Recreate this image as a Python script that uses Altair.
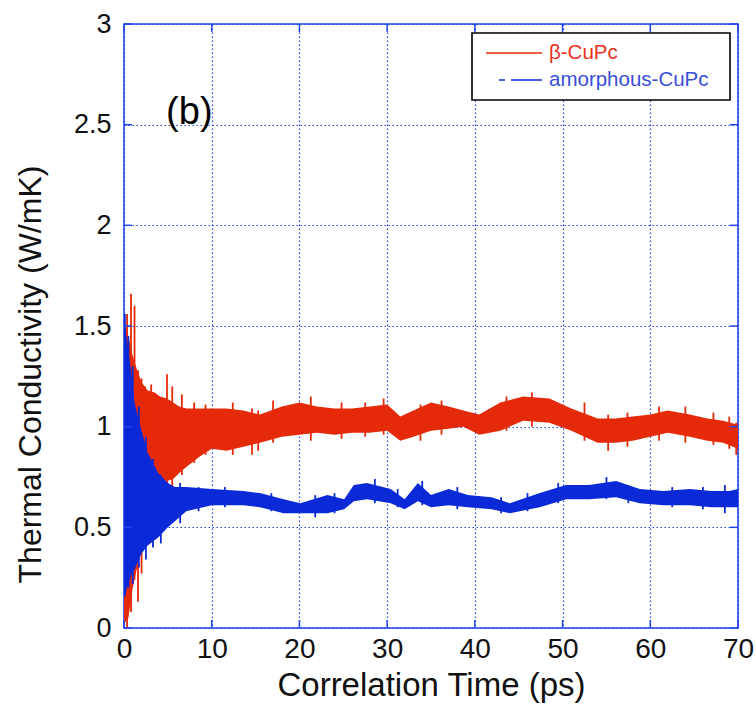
import altair as alt
import pandas as pd

# ---- data ----
red_t  = [0, 0.5, 1.0, 1.5, 2.0, 2.7, 3.5, 4.1, 4.9, 5.6, 6.3, 7.1, 8.6, 10, 11.7, 13.6, 15.5, 18, 20, 22, 24, 26, 28, 30, 31.5, 33, 35, 37, 38.7, 40.5, 42.9, 45.5, 48.5, 51, 54, 56, 58, 60, 62, 64.5, 66.5, 68.3, 70]
red_hi = [1.52, 1.45, 1.35, 1.28, 1.22, 1.18, 1.17, 1.15, 1.14, 1.12, 1.10, 1.09, 1.09, 1.09, 1.09, 1.08, 1.06, 1.10, 1.12, 1.10, 1.09, 1.09, 1.10, 1.11, 1.05, 1.08, 1.12, 1.10, 1.08, 1.06, 1.12, 1.15, 1.14, 1.09, 1.04, 1.04, 1.05, 1.06, 1.08, 1.06, 1.04, 1.03, 1.01]
red_lo = [0.02, 0.05, 0.20, 0.30, 0.55, 0.72, 0.74, 0.74, 0.73, 0.74, 0.77, 0.80, 0.85, 0.89, 0.88, 0.90, 0.92, 0.95, 0.96, 0.97, 0.96, 0.97, 0.97, 0.98, 0.93, 0.95, 0.98, 0.99, 1.00, 0.96, 0.98, 1.03, 1.02, 0.98, 0.92, 0.92, 0.93, 0.95, 0.97, 0.95, 0.93, 0.92, 0.89]

red_spike_t  = [0.35, 0.8, 1.2, 1.6, 2.0, 2.4, 3.1, 4.9, 5.5, 6.6, 8.0, 9.3, 12.4, 14.6, 15.3, 17.0, 21.3, 24.8, 27.5, 29.6, 33.8, 36.2, 43.6, 46.5, 52.5, 55.2, 57.4, 61.0, 64.0, 67.2, 69.0, 69.8]
red_spike_lo = [0.00, 0.08, 0.24, 0.13, 0.27, 0.45, 0.62, 0.72, 0.70, 0.76, 0.82, 0.86, 0.86, 0.86, 0.88, 0.92, 0.93, 0.94, 0.95, 0.96, 0.93, 0.96, 0.98, 1.00, 0.93, 0.88, 0.90, 0.93, 0.92, 0.91, 0.89, 0.86]
red_spike_hi = [1.56, 1.66, 1.60, 1.28, 1.24, 1.20, 1.21, 1.26, 1.20, 1.16, 1.12, 1.11, 1.12, 1.09, 1.08, 1.13, 1.15, 1.12, 1.12, 1.14, 1.11, 1.13, 1.15, 1.17, 1.12, 1.06, 1.07, 1.10, 1.10, 1.07, 1.05, 1.02]

blue_t  = [0, 0.2, 0.8, 1.2, 2.0, 2.7, 3.9, 5.0, 5.8, 7.1, 10, 13.6, 15.5, 18.2, 20.1, 23.2, 25.1, 26.2, 27.7, 30.4, 32, 33.5, 35, 37, 39.2, 41.9, 44, 47.4, 50.4, 53, 56.1, 58.8, 61.5, 64.5, 67, 69, 70]
blue_hi = [1.52, 1.47, 1.28, 1.12, 0.98, 0.87, 0.77, 0.72, 0.70, 0.70, 0.69, 0.68, 0.67, 0.64, 0.62, 0.66, 0.64, 0.71, 0.72, 0.69, 0.64, 0.72, 0.66, 0.69, 0.66, 0.65, 0.62, 0.67, 0.71, 0.71, 0.73, 0.69, 0.68, 0.69, 0.68, 0.68, 0.69]
blue_lo = [0.15, 0.18, 0.26, 0.29, 0.37, 0.41, 0.45, 0.50, 0.53, 0.58, 0.61, 0.61, 0.60, 0.57, 0.57, 0.57, 0.59, 0.63, 0.64, 0.62, 0.59, 0.63, 0.60, 0.61, 0.60, 0.59, 0.57, 0.60, 0.64, 0.64, 0.65, 0.62, 0.61, 0.61, 0.60, 0.60, 0.60]

blue_spike_t  = [0.1, 0.5, 1.0, 1.7, 2.5, 3.3, 4.2, 6.4, 8.5, 11.5, 16.8, 21.8, 24.0, 28.6, 31.2, 34.0, 38.0, 43.0, 46.0, 49.5, 55.0, 57.5, 62.5, 66.0, 68.5]
blue_spike_lo = [0.16, 0.20, 0.22, 0.30, 0.34, 0.40, 0.42, 0.52, 0.58, 0.60, 0.58, 0.55, 0.57, 0.62, 0.60, 0.61, 0.59, 0.57, 0.58, 0.62, 0.64, 0.62, 0.60, 0.59, 0.57]
blue_spike_hi = [1.56, 1.45, 1.30, 1.10, 0.95, 0.84, 0.76, 0.72, 0.70, 0.70, 0.67, 0.66, 0.67, 0.74, 0.69, 0.73, 0.70, 0.65, 0.67, 0.72, 0.75, 0.71, 0.70, 0.70, 0.71]

x_ticks = [0, 10, 20, 30, 40, 50, 60, 70]
y_ticks = [0, 0.5, 1, 1.5, 2, 2.5, 3]

legend_labels = ["β-CuPc", "amorphous-CuPc"]
RED = "#e42a08"
BLUE = "#0a2ad8"
FRAME = "#2446e6"

W, H = 614, 604

red_df = pd.DataFrame({"t": red_t, "k": red_hi, "k2": red_lo})
red_sp = pd.DataFrame({"t": red_spike_t, "k": red_spike_hi, "k2": red_spike_lo})
blue_df = pd.DataFrame({"t": blue_t, "k": blue_hi, "k2": blue_lo})
blue_sp = pd.DataFrame({"t": blue_spike_t, "k": blue_spike_hi, "k2": blue_spike_lo})

xs = alt.Scale(domain=[0, 70], nice=False, zero=False)
ys = alt.Scale(domain=[0, 3], nice=False, zero=False)

x_enc = alt.X("t:Q", scale=xs, title="Correlation Time (ps)",
              axis=alt.Axis(values=x_ticks, labelFlush=False, labelPadding=7,
                            titlePadding=6, titleFontSize=33))
y_enc = alt.Y("k:Q", scale=ys, title="Thermal Conductivity (W/mK)",
              axis=alt.Axis(values=y_ticks, format="~g", labelPadding=13,
                            titlePadding=26, titleFontSize=32, labelFontSize=27,
                            titleY=350))

red_area = alt.Chart(red_df).mark_area(color=RED, opacity=1).encode(
    x=x_enc, y=y_enc, y2="k2:Q")
red_spikes = alt.Chart(red_sp).mark_rule(color=RED, strokeWidth=1.8).encode(
    x=x_enc, y=y_enc, y2="k2:Q")
blue_area = alt.Chart(blue_df).mark_area(color=BLUE, opacity=1).encode(
    x=x_enc, y=y_enc, y2="k2:Q")
blue_spikes = alt.Chart(blue_sp).mark_rule(color=BLUE, strokeWidth=1.8).encode(
    x=x_enc, y=y_enc, y2="k2:Q")

# inward frame ticks
xt_df = pd.DataFrame({"t": x_ticks})
yt_df = pd.DataFrame({"k": y_ticks})
tick_style = dict(color=FRAME, strokeWidth=1.5)
bottom_ticks = alt.Chart(xt_df).mark_rule(**tick_style).encode(
    x=x_enc, y=alt.value(H), y2=alt.value(H - 8))
top_ticks = alt.Chart(xt_df).mark_rule(**tick_style).encode(
    x=x_enc, y=alt.value(0), y2=alt.value(8))
left_ticks = alt.Chart(yt_df).mark_rule(**tick_style).encode(
    y=y_enc, x=alt.value(0), x2=alt.value(8))
right_ticks = alt.Chart(yt_df).mark_rule(**tick_style).encode(
    y=y_enc, x=alt.value(W), x2=alt.value(W - 8))

# legend (drawn manually)
leg_box = alt.Chart(pd.DataFrame({"a": [0]})).mark_rect(
    fill="white", stroke="black", strokeWidth=1.6).encode(
    x=alt.value(348), x2=alt.value(606), y=alt.value(9), y2=alt.value(76))
leg_red_line = alt.Chart(pd.DataFrame({"a": [0]})).mark_rule(
    color=RED, strokeWidth=1.5).encode(
    x=alt.value(362), x2=alt.value(418), y=alt.value(29))
leg_blue_line = alt.Chart(pd.DataFrame({"a": [0]})).mark_rule(
    color=BLUE, strokeWidth=1.5, strokeDash=[6, 6, 31, 6]).encode(
    x=alt.value(375), x2=alt.value(418), y=alt.value(56))
leg_red_text = alt.Chart(pd.DataFrame({"lab": [legend_labels[0]]})).mark_text(
    align="left", baseline="middle", font="Liberation Sans", fontSize=20.5,
    color="#e8321a").encode(x=alt.value(425), y=alt.value(29), text="lab:N")
leg_blue_text = alt.Chart(pd.DataFrame({"lab": [legend_labels[1]]})).mark_text(
    align="left", baseline="middle", font="Liberation Sans", fontSize=20.5,
    color="#3a4ed8").encode(x=alt.value(425), y=alt.value(56), text="lab:N")

panel = alt.Chart(pd.DataFrame({"t": [4.8], "k": [2.56], "lab": ["(b)"]})).mark_text(
    align="left", baseline="middle", font="Liberation Sans", fontSize=38,
    color="black").encode(x=x_enc, y=y_enc, text="lab:N")

chart = alt.layer(
    red_area, red_spikes, blue_area, blue_spikes,
    bottom_ticks, top_ticks, left_ticks, right_ticks,
    panel, leg_box, leg_red_line, leg_blue_line, leg_red_text, leg_blue_text,
).properties(
    width=W, height=H,
    autosize=alt.AutoSizeParams(type="none"),
    padding={"left": 124, "top": 24, "right": 18, "bottom": 78},
).configure_view(
    stroke=FRAME, strokeWidth=1.6
).configure_axis(
    grid=True, gridColor=FRAME, gridDash=[1.5, 2.5], gridWidth=1.2, gridOpacity=1,
    domain=False, ticks=False,
    labelFont="Liberation Sans", labelFontSize=28, labelColor="#111111",
    titleFont="Liberation Sans", titleFontWeight="normal",
    titleColor="#111111",
)

chart.save("out.html", embed_options={"renderer": "svg", "actions": False})
